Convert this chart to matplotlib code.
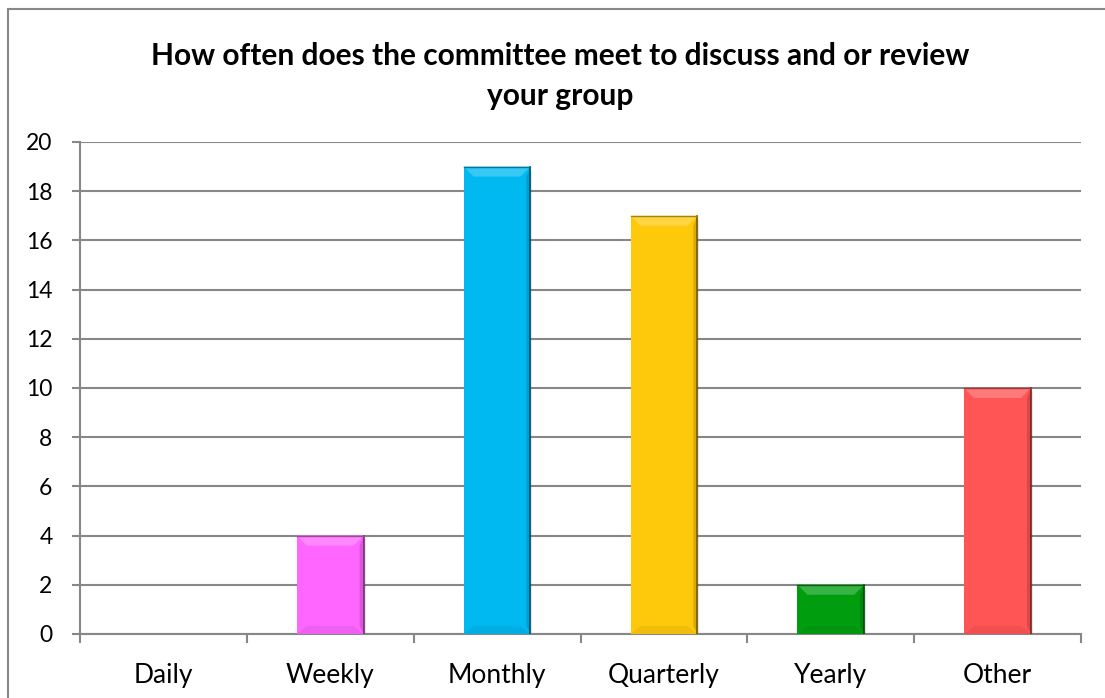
import matplotlib
matplotlib.use("Agg")
import matplotlib.pyplot as plt
from matplotlib.patches import Polygon, Rectangle
from matplotlib.colors import to_rgb
import numpy as np

categories = ["Daily", "Weekly", "Monthly", "Quarterly", "Yearly", "Other"]
counts = [0, 4, 19, 17, 2, 10]
bar_colors = ["#4F81BD", "#FF66FF", "#00B9F1", "#FFC90B", "#009E0F", "#FF5555"]
title = "How often does the committee meet to discuss and or review\nyour group"
y_ticks = [0, 2, 4, 6, 8, 10, 12, 14, 16, 18, 20]

W, H = 1105, 698
plt.rcParams["font.family"] = ["Lato", "DejaVu Sans"]

fig = plt.figure(figsize=(W / 100, H / 100), dpi=100)
ax = fig.add_axes([80 / W, 1 - 634 / H, (1081 - 80) / W, (634 - 142) / H])

# outer chart frame (runs off the right and bottom edges)
fig.patches.append(Rectangle((8 / W, -0.1), 1.2, 1 - 9 / H + 0.1,
                             transform=fig.transFigure, fill=False,
                             edgecolor="#878787", linewidth=1.5))

x = np.arange(len(categories))
bars = ax.bar(x, counts, width=0.4, color=bar_colors, zorder=3, linewidth=0)


def mix(c, other, t):
    c = np.array(to_rgb(c))
    return tuple(c * (1 - t) + np.array(other) * t)


# bevel: lighter top edge, darker sides/bottom, soft shadow
bx_px = 1.0 / ((1081 - 80) / len(categories))   # data units per pixel along x
by_px = 20.0 / (634 - 142)                      # data units per pixel along y
for b, col in zip(bars, bar_colors):
    h = b.get_height()
    if h <= 0:
        continue
    x0, w = b.get_x(), b.get_width()
    x1 = x0 + w
    dx, dy = 10 * bx_px, 10 * by_px
    dy = min(dy, h / 3)
    # shadow
    ax.add_patch(Rectangle((x0 + 2 * bx_px, -3 * by_px), w, h,
                           color="#000000", alpha=0.10, zorder=2, linewidth=0))
    ax.add_patch(Polygon([(x0, h), (x1, h), (x1 - dx, h - dy), (x0 + dx, h - dy)],
                         closed=True, color=mix(col, (1, 1, 1), 0.22), zorder=4, linewidth=0))
    ax.add_patch(Polygon([(x0, 0), (x1, 0), (x1 - dx, dy * 0.8), (x0 + dx, dy * 0.8)],
                         closed=True, color=mix(col, (0, 0, 0), 0.06), zorder=4, linewidth=0))
    ax.add_patch(Polygon([(x1, 0), (x1, h), (x1 - dx * 0.4, h - dy), (x1 - dx * 0.4, dy * 0.8)],
                         closed=True, color=mix(col, (0, 0, 0), 0.15), zorder=4, linewidth=0))
    ax.plot([x1, x1], [0, h], color=mix(col, (0, 0, 0), 0.55), linewidth=1.2, zorder=5)
    ax.plot([x0, x1], [h, h], color=mix(col, (0, 0, 0), 0.35), linewidth=1.0, zorder=5)

ax.set_xlim(-0.5, len(categories) - 0.5)
ax.set_ylim(0, 20)
ax.set_yticks(y_ticks)
ax.set_yticklabels([str(v) for v in y_ticks], fontsize=16.5)
ax.grid(axis="y", color="#878787", linewidth=1.5, zorder=1)
ax.set_axisbelow(True)

ax.set_xticks(x)
ax.set_xticklabels(categories, fontsize=19)
ax.tick_params(axis="x", length=0, pad=21)
ax.set_xticks(np.arange(-0.5, len(categories)), minor=True)
ax.tick_params(axis="x", which="minor", length=6.5, width=1.5, color="#878787", direction="out")
ax.tick_params(axis="y", length=5.8, width=1.5, color="#878787", direction="out", pad=14)

for s in ["top", "right"]:
    ax.spines[s].set_visible(False)
for s in ["left", "bottom"]:
    ax.spines[s].set_color("#878787")
    ax.spines[s].set_linewidth(1.5)

fig.text(560 / W, 1 - 76 / H, title, ha="center", va="center",
         fontsize=21.5, fontweight="bold", linespacing=1.5)

fig.savefig("out.png", dpi=100)
